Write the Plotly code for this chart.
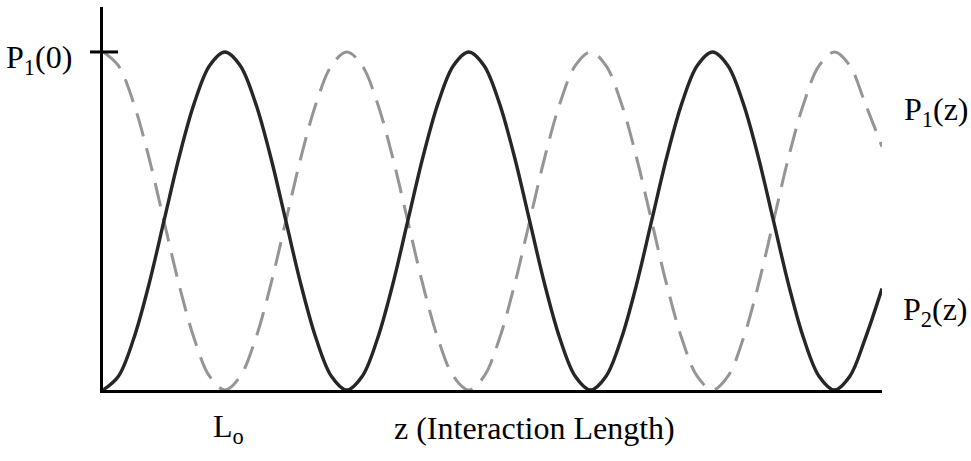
import plotly.graph_objects as go

# Interaction length in units of the coupling length L0 (eighth-L0 steps)
z = [0.0, 0.125, 0.25, 0.375, 0.5, 0.625, 0.75, 0.875,
     1.0, 1.125, 1.25, 1.375, 1.5, 1.625, 1.75, 1.875,
     2.0, 2.125, 2.25, 2.375, 2.5, 2.625, 2.75, 2.875,
     3.0, 3.125, 3.25, 3.375, 3.5, 3.625, 3.75, 3.875,
     4.0, 4.125, 4.25, 4.375, 4.5, 4.625, 4.75, 4.875,
     5.0, 5.125, 5.25, 5.375, 5.5, 5.625, 5.75, 5.875,
     6.0, 6.125, 6.25, 6.39]

# Power in the second guide, normalised to P1(0)
p2 = [0.0, 0.04, 0.15, 0.31, 0.5, 0.69, 0.85, 0.96,
      1.0, 0.96, 0.85, 0.69, 0.5, 0.31, 0.15, 0.04,
      0.0, 0.04, 0.15, 0.31, 0.5, 0.69, 0.85, 0.96,
      1.0, 0.96, 0.85, 0.69, 0.5, 0.31, 0.15, 0.04,
      0.0, 0.04, 0.15, 0.31, 0.5, 0.69, 0.85, 0.96,
      1.0, 0.96, 0.85, 0.69, 0.5, 0.31, 0.15, 0.04,
      0.0, 0.04, 0.15, 0.30]

# Power remaining in the first guide
p1 = [1.0, 0.96, 0.85, 0.69, 0.5, 0.31, 0.15, 0.04,
      0.0, 0.04, 0.15, 0.31, 0.5, 0.69, 0.85, 0.96,
      1.0, 0.96, 0.85, 0.69, 0.5, 0.31, 0.15, 0.04,
      0.0, 0.04, 0.15, 0.31, 0.5, 0.69, 0.85, 0.96,
      1.0, 0.96, 0.85, 0.69, 0.5, 0.31, 0.15, 0.04,
      0.0, 0.04, 0.15, 0.31, 0.5, 0.69, 0.85, 0.96,
      1.0, 0.96, 0.85, 0.72]

p1_start = 1.0
y_top = 1.133
serif = "Liberation Serif, Times New Roman, serif"

fig = go.Figure()
fig.add_trace(go.Scatter(
    x=z, y=p1, mode="lines", name="P1(z)",
    line=dict(color="#959595", width=3, dash="24px,12px", shape="spline"),
))
fig.add_trace(go.Scatter(
    x=z, y=p2, mode="lines", name="P2(z)",
    line=dict(color="#262626", width=3.4, shape="spline"),
))

# tick marking the launched power P1(0), crossing the vertical axis
fig.add_shape(type="line", xref="paper", yref="paper",
              x0=-0.0167, x1=0.0193, y0=p1_start / y_top, y1=p1_start / y_top,
              line=dict(color="black", width=3))

ann_font = dict(family=serif, size=32, color="black")
fig.add_annotation(text="P<sub>1</sub>(0)", xref="paper", yref="paper",
                   x=-0.037, y=0.862, xanchor="right", yanchor="middle",
                   showarrow=False, font=ann_font)
fig.add_annotation(text="P<sub>1</sub>(z)", xref="paper", yref="paper",
                   x=1.026, y=0.726, xanchor="left", yanchor="middle",
                   showarrow=False, font=ann_font)
fig.add_annotation(text="P<sub>2</sub>(z)", xref="paper", yref="paper",
                   x=1.024, y=0.204, xanchor="left", yanchor="middle",
                   showarrow=False, font=ann_font)
fig.add_annotation(text="L<sub>o</sub>", xref="x", yref="paper",
                   x=1.0, y=-0.1, xanchor="center", yanchor="middle", xshift=4,
                   showarrow=False, font=ann_font)
fig.add_annotation(text="z (Interaction Length)", xref="paper", yref="paper",
                   x=0.554, y=-0.1, xanchor="center", yanchor="middle",
                   showarrow=False, font=dict(family=serif, size=32, color="black"))

fig.update_xaxes(range=[0, z[-1]], showline=True, linecolor="black", linewidth=3,
                 showgrid=False, zeroline=False, showticklabels=False, ticks="")
fig.update_yaxes(range=[0, y_top], showline=True, linecolor="black", linewidth=3,
                 showgrid=False, zeroline=False, showticklabels=False, ticks="")

fig.update_layout(
    width=971, height=461,
    margin=dict(l=103, r=89, t=7, b=71),
    paper_bgcolor="white", plot_bgcolor="white",
    showlegend=False,
)

fig.write_html("out.html")
